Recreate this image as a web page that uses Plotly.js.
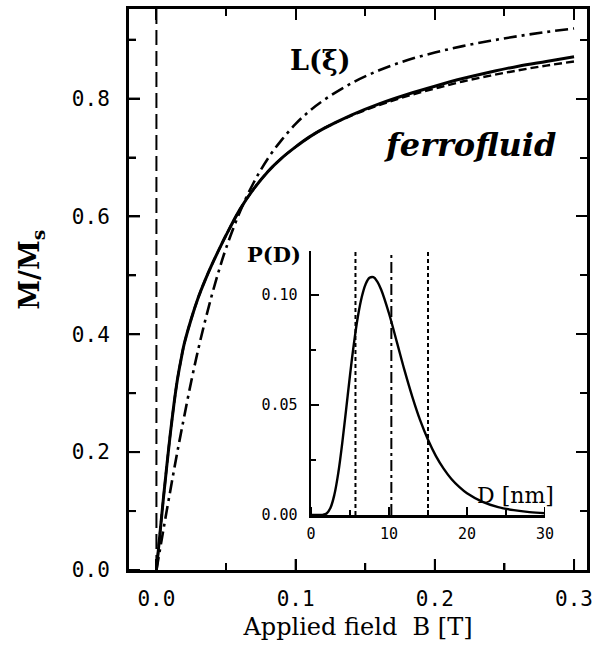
<!DOCTYPE html>
<html>
<head>
<meta charset="utf-8">
<script src="https://cdn.plot.ly/plotly-3.0.1.min.js"></script>
<style>html,body{margin:0;padding:0;background:#fff;}</style>
</head>
<body>
<div id="chart" style="width:599px;height:654px;"></div>
<script>
// Main panel: applied field B [T]
const fieldB = [0, 0.0025, 0.005, 0.0075, 0.01, 0.0125, 0.015, 0.0175, 0.02, 0.025, 0.03, 0.035, 0.04, 0.045, 0.05, 0.06, 0.07, 0.08, 0.09, 0.10, 0.11, 0.12, 0.14, 0.16, 0.18, 0.20, 0.22, 0.24, 0.26, 0.28, 0.30];
// ferrofluid magnetisation (solid)
const ferrofluidM = [0, 0.061, 0.121, 0.178, 0.232, 0.280, 0.322, 0.355, 0.384, 0.426, 0.462, 0.492, 0.519, 0.544, 0.568, 0.612, 0.647, 0.676, 0.699, 0.718, 0.735, 0.749, 0.772, 0.791, 0.807, 0.821, 0.834, 0.845, 0.855, 0.863, 0.871];
// fit (dashed)
const fitM = [0, 0.061, 0.121, 0.178, 0.232, 0.280, 0.322, 0.355, 0.384, 0.426, 0.462, 0.492, 0.519, 0.544, 0.568, 0.612, 0.647, 0.676, 0.699, 0.718, 0.735, 0.749, 0.771, 0.789, 0.804, 0.817, 0.829, 0.839, 0.848, 0.856, 0.863];
// single Langevin L(xi) (dash-dot)
const langevinM = [0, 0.034, 0.068, 0.102, 0.135, 0.168, 0.200, 0.231, 0.261, 0.320, 0.374, 0.423, 0.468, 0.509, 0.546, 0.608, 0.658, 0.698, 0.730, 0.757, 0.779, 0.797, 0.826, 0.848, 0.865, 0.878, 0.889, 0.898, 0.906, 0.913, 0.919];
// vertical dashed reference line at B = 0
const zeroLineB = [0, 0];
const zeroLineM = [0, 0.952];

// Inset: size distribution P(D)
const diamD = [0, 1, 1.5, 2, 2.5, 3, 3.5, 4, 4.5, 5, 5.5, 6, 6.5, 7, 7.5, 8, 8.5, 9, 10, 11, 12, 13, 14, 15, 16, 17, 18, 19, 20, 22, 24, 26, 28, 30];
const probP = [0, 0, 0.0001, 0.0007, 0.0033, 0.0093, 0.0192, 0.0326, 0.0479, 0.0636, 0.0779, 0.0900, 0.0990, 0.1049, 0.1078, 0.1081, 0.1061, 0.1024, 0.0916, 0.0787, 0.0656, 0.0536, 0.0430, 0.0342, 0.0269, 0.0211, 0.0164, 0.0128, 0.0099, 0.0060, 0.0036, 0.0022, 0.0013, 0.0008];
// marker lines in inset: lower, mean, upper diameters
const markLowD = 5.7;
const markMeanD = 10.3;
const markHighD = 15.0;
const markSpanP = [0, 0.12];

// ticks and tick labels
const xTickVals = [0, 0.1, 0.2, 0.3];
const xTickLabels = ['0.0', '0.1', '0.2', '0.3'];
const xMinorVals = [0.05, 0.15, 0.25];
const yTickVals = [0, 0.2, 0.4, 0.6, 0.8];
const yTickLabels = ['0.0', '0.2', '0.4', '0.6', '0.8'];
const yMinorVals = [0.1, 0.3, 0.5, 0.7, 0.9];
const insetXVals = [0, 10, 20, 30];
const insetXTicks = ['0', '10', '20', '30'];
const insetXMinor = [5, 15, 25];
const insetYVals = [0, 0.05, 0.10];
const insetYTicks = ['0.00', '0.05', '0.10'];
const insetYMinor = [0.025, 0.075];

const mainXRange = [-0.0197, 0.3093];
const mainYRange = [0, 0.952];
const insetXRange = [0, 30];
const insetYRange = [0, 0.12];

const traces = [
  {x: zeroLineB, y: zeroLineM, mode: 'lines', line: {color: '#000', width: 2, dash: '15px,6px'}, xaxis: 'x', yaxis: 'y', hoverinfo: 'skip'},
  {x: fieldB, y: langevinM, mode: 'lines', line: {color: '#000', width: 2.6, dash: '13px,5px,3px,5px', shape: 'spline', smoothing: 1}, xaxis: 'x', yaxis: 'y'},
  {x: fieldB, y: fitM, mode: 'lines', line: {color: '#000', width: 2.4, dash: '8px,4px', shape: 'spline', smoothing: 1}, xaxis: 'x', yaxis: 'y'},
  {x: fieldB, y: ferrofluidM, mode: 'lines', line: {color: '#000', width: 3, shape: 'spline', smoothing: 1}, xaxis: 'x', yaxis: 'y'},
  {x: [markLowD, markLowD], y: markSpanP, mode: 'lines', line: {color: '#000', width: 2, dash: '4px,3px'}, xaxis: 'x2', yaxis: 'y2'},
  {x: [markMeanD, markMeanD], y: markSpanP, mode: 'lines', line: {color: '#000', width: 2, dash: '11px,4px,3px,4px'}, xaxis: 'x2', yaxis: 'y2'},
  {x: [markHighD, markHighD], y: markSpanP, mode: 'lines', line: {color: '#000', width: 2, dash: '4px,3px'}, xaxis: 'x2', yaxis: 'y2'},
  {x: diamD, y: probP, mode: 'lines', line: {color: '#000', width: 2.4, shape: 'spline', smoothing: 1}, xaxis: 'x2', yaxis: 'y2'}
];

// inward tick marks on the bottom / left axes, placed at the tick values (pixel-length lines)
function bottomTicks(vals, xref, yref, len) {
  return vals.map(v => ({type: 'line', xref: xref, yref: yref, x0: v, x1: v,
    ysizemode: 'pixel', yanchor: 0, y0: 0, y1: len, line: {color: '#000', width: 2}, layer: 'above'}));
}
function leftTicks(vals, xref, yref, len) {
  return vals.map(v => ({type: 'line', xref: xref, yref: yref, y0: v, y1: v,
    xsizemode: 'pixel', xanchor: 0, x0: 0, x1: len, line: {color: '#000', width: 2}, layer: 'above'}));
}
const tickShapes = [].concat(
  bottomTicks(xTickVals, 'x', 'y domain', 11),
  bottomTicks(xMinorVals, 'x', 'y domain', 7),
  leftTicks(yTickVals, 'x domain', 'y', 11),
  leftTicks(yMinorVals, 'x domain', 'y', 7),
  bottomTicks(insetXVals, 'x2', 'y2 domain', 8),
  bottomTicks(insetXMinor, 'x2', 'y2 domain', 5),
  leftTicks(insetYVals, 'x2 domain', 'y2', 8),
  leftTicks(insetYMinor, 'x2 domain', 'y2', 5)
);

const tickFont = {family: 'DejaVu Sans Mono', size: 21, color: '#000'};
const insetFont = {family: 'DejaVu Sans Mono', size: 15, color: '#000'};

function tickStyle(len, minorLen, minorStep) {
  return {
    ticks: 'inside', ticklen: len, tickwidth: 2, tickcolor: '#000',
    minor: {tickmode: 'linear', tick0: 0, dtick: minorStep, ticks: 'inside', ticklen: minorLen, tickwidth: 2, tickcolor: '#000', showgrid: false},
    showgrid: false, zeroline: false
  };
}

const layout = {
  width: 599, height: 654,
  margin: {l: 129, r: 12, t: 9, b: 84, pad: 0},
  paper_bgcolor: '#fff', plot_bgcolor: 'rgba(0,0,0,0)',
  showlegend: false,
  xaxis: Object.assign(tickStyle(11, 7, 0.05), {
    domain: [0, 1], range: mainXRange,
    tickmode: 'array', tickvals: xTickVals, ticktext: xTickLabels,
    showline: true, linewidth: 3, linecolor: '#000', mirror: 'allticks',
    tickfont: tickFont, ticklabelstandoff: 8,
    title: {text: 'Applied field\u00a0\u00a0B [T]', font: {family: 'DejaVu Serif', size: 24, color: '#000'}, standoff: 8}
  }),
  yaxis: Object.assign(tickStyle(11, 7, 0.1), {
    domain: [0, 1], range: mainYRange,
    tickmode: 'array', tickvals: yTickVals, ticktext: yTickLabels,
    showline: true, linewidth: 3, linecolor: '#000', mirror: 'allticks',
    tickfont: tickFont, ticklabelstandoff: 12
  }),
  xaxis2: Object.assign(tickStyle(8, 5, 5), {
    anchor: 'y2', domain: [0.3974, 0.9083], range: insetXRange,
    tickmode: 'array', tickvals: insetXVals, ticktext: insetXTicks,
    showline: true, linewidth: 2.5, linecolor: '#000',
    tickfont: insetFont, ticklabelstandoff: 3
  }),
  yaxis2: Object.assign(tickStyle(8, 5, 0.025), {
    anchor: 'x2', domain: [0.098, 0.5686], range: insetYRange,
    tickmode: 'array', tickvals: insetYVals, ticktext: insetYTicks,
    showline: true, linewidth: 2.5, linecolor: '#000',
    tickfont: insetFont, ticklabelstandoff: 8
  }),
  shapes: tickShapes,
  annotations: [
    {text: '<b>M/M<sub>s</sub></b>', xref: 'paper', yref: 'paper', x: -0.2118, y: 0.535, xanchor: 'center', yanchor: 'middle', textangle: -90, showarrow: false,
     font: {family: 'DejaVu Serif', size: 27, color: '#000'}},
    {text: '<b>L(ξ)</b>', xref: 'x', yref: 'y', x: 0.1175, y: 0.865, xanchor: 'center', yanchor: 'middle', showarrow: false,
     font: {family: 'DejaVu Serif', size: 27, color: '#000'}},
    {text: '<b><i>ferrofluid</i></b>', xref: 'x', yref: 'y', x: 0.2253, y: 0.721, xanchor: 'center', yanchor: 'middle', showarrow: false,
     font: {family: 'DejaVu Serif', size: 32, color: '#000'}},
    {text: '<b>P(D)</b>', xref: 'paper', yref: 'paper', x: 0.3166, y: 0.5615, xanchor: 'center', yanchor: 'middle', showarrow: false,
     font: {family: 'DejaVu Serif', size: 21, color: '#000'}},
    {text: 'D [nm]', xref: 'x2', yref: 'y2', x: 26.2, y: 0.0091, xanchor: 'center', yanchor: 'middle', showarrow: false,
     font: {family: 'DejaVu Serif', size: 22, color: '#000'}}
  ]
};

Plotly.newPlot('chart', traces, layout, {staticPlot: true, displayModeBar: false});
</script>
</body>
</html>
